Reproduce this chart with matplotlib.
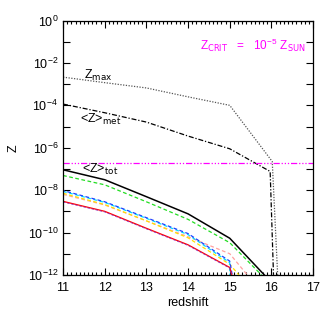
#!/usr/bin/env python3
import numpy as np
import matplotlib
matplotlib.use("Agg")
import matplotlib.pyplot as plt
from matplotlib.ticker import FixedLocator, MultipleLocator, NullFormatter

plt.rcParams['font.family'] = ['Liberation Sans', 'DejaVu Sans']
plt.rcParams['mathtext.default'] = 'regular'

# redshift nodes and log10(Z) values
z_max_x = [11, 12, 13, 14, 15, 16.02, 16.15]
z_max_y = [-2.67, -2.93, -3.18, -3.6, -4.0, -6.65, -12.0]

z_met_x = [11, 12, 13, 14, 15, 15.97, 16.05]
z_met_y = [-3.94, -4.35, -4.79, -5.45, -6.05, -7.12, -12.0]

z_crit = 2e-7

z_tot_x = [11, 12, 13, 14, 15, 15.83]
z_tot_y = [-7.04, -7.51, -8.31, -9.12, -10.27, -12.0]

green_x = [11, 12, 13, 14, 15, 15.76]
green_y = [-7.31, -7.75, -8.55, -9.38, -10.48, -12.0]

blue_x = [11, 12, 13, 14, 15, 15.06]
blue_y = [-8.02, -8.55, -9.3, -10.05, -11.35, -12.0]

cyan_x = [11, 12, 13, 14, 15, 15.0]
cyan_y = [-8.06, -8.58, -9.33, -10.1, -11.42, -12.0]

pink_x = [11, 12, 13, 14, 15, 15.42]
pink_y = [-8.2, -8.7, -9.45, -10.2, -11.0, -12.0]

yellow_x = [11, 12, 13, 14, 15, 15.22]
yellow_y = [-8.15, -8.68, -9.45, -10.25, -11.5, -12.0]

red_x = [11, 12, 13, 14, 15, 15.05]
red_y = [-8.53, -9.0, -9.8, -10.58, -11.65, -12.0]


def pw(v):
    return 10.0 ** np.array(v)


fig = plt.figure(figsize=(3.32, 3.16), dpi=100, facecolor='w')
ax = fig.add_axes([0.19, 0.13, 0.753, 0.805])

lw = 0.9
ax.plot(z_max_x, pw(z_max_y), color='#555555', ls=(0, (1, 1.2)), lw=lw)
ax.plot(z_met_x, pw(z_met_y), color='black', ls=(0, (4, 1.5, 1, 1.5)), lw=lw)
ax.axhline(z_crit, color='#ff00ff', lw=lw,
           ls=(0, (5, 1.5, 1, 1.5, 1, 1.5, 1, 1.5)))

ax.plot(green_x, pw(green_y), color='#22dd22', ls=(0, (3, 2)), lw=lw)
ax.plot(pink_x, pw(pink_y), color='#ffa0a0', ls=(0, (3, 2)), lw=lw)
ax.plot(yellow_x, pw(yellow_y), color='#ffe000', ls=(0, (3, 2)), lw=lw)
ax.plot(cyan_x, pw(cyan_y), color='#00ddff', ls=(0, (3, 2)), lw=lw)
ax.plot(blue_x, pw(blue_y), color='#2040ff', ls=(1.5, (3, 2)), lw=lw)
ax.plot(red_x, pw(red_y), color='#ff0000', ls='-', lw=lw)
ax.plot(red_x, pw(np.array(red_y) - 0.03), color='#9030c0', ls=(0, (3, 2)), lw=0.6)
ax.plot(z_tot_x, pw(z_tot_y), color='black', ls='-', lw=1.1)

ax.set_yscale('log')
ax.set_xlim(11, 17)
ax.set_ylim(1e-12, 1)

ax.xaxis.set_major_locator(MultipleLocator(1))
ax.xaxis.set_minor_locator(MultipleLocator(0.1))
ax.yaxis.set_major_locator(FixedLocator([10.0 ** k for k in range(-12, 1, 2)]))
ax.yaxis.set_minor_locator(FixedLocator([10.0 ** k for k in range(-11, 0, 2)]))
ax.yaxis.set_minor_formatter(NullFormatter())
ax.set_yticklabels([r'$10^{%d}$' % k for k in range(-12, 1, 2)])

ax.tick_params(which='both', direction='in', top=True, right=True,
               labelsize=9, width=0.8)
ax.tick_params(axis='y', which='both', length=5)
ax.tick_params(axis='x', which='major', length=5, pad=5)
ax.tick_params(axis='x', which='minor', length=2.5)
for s in ax.spines.values():
    s.set_linewidth(0.9)

ax.set_xlabel('redshift', fontsize=9, labelpad=2)
ax.set_ylabel('Z', fontsize=9, labelpad=6)

ax.text(11.5, 2.5e-3, r'Z$_{\rm max}$', fontsize=9, va='center')
ax.text(11.4, 2.2e-5, r'<Z>$_{\rm met}$', fontsize=9, va='center')
ax.text(11.45, 9e-8, r'<Z>$_{\rm tot}$', fontsize=9, va='center')
ax.text(15.55, 0.07, r'Z$_{\rm CRIT}\ \ =\ \ $10$^{-5}\ $Z$_{\rm SUN}$',
        fontsize=8.5, color='#ff00ff', va='center', ha='center')

fig.savefig('out.png', dpi=100)
